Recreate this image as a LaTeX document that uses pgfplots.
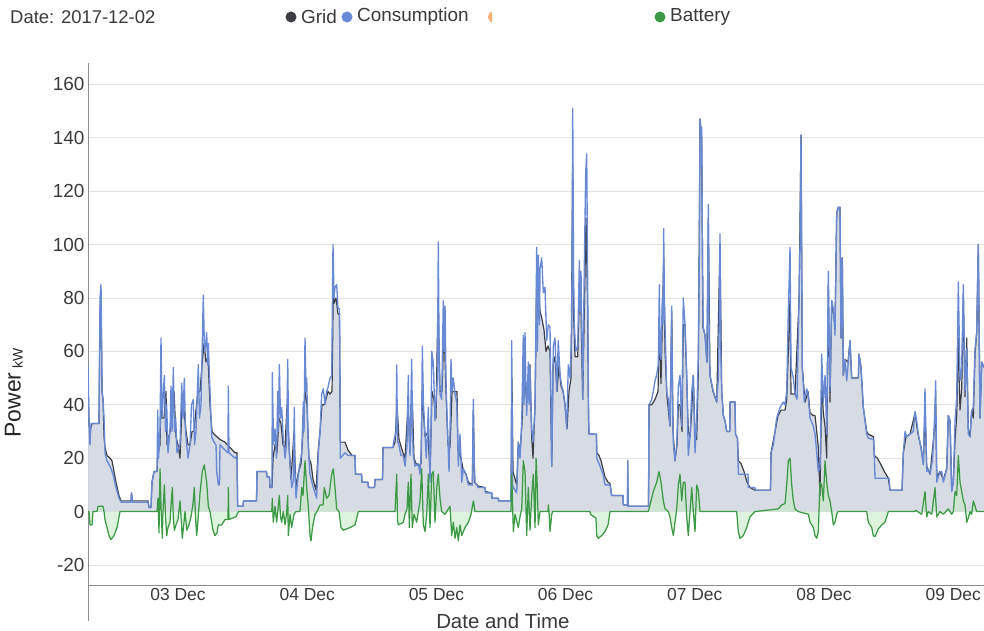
\documentclass[border=0pt]{standalone}
\usepackage{fontspec}
\setmainfont{Liberation Sans}
\usepackage{pgfplots}
\usepackage{pgfplotstable}
\pgfplotsset{compat=1.18}
\definecolor{consblue}{HTML}{6889D4}
\definecolor{griddark}{HTML}{3D3D45}
\definecolor{areagrey}{HTML}{D3D7E1}
\definecolor{battgreen}{HTML}{3C9A45}
\definecolor{battfill}{HTML}{C8EBC8}
\definecolor{solarorange}{HTML}{F2B27A}
\definecolor{txt}{HTML}{3A3A3A}

% hours relative to 03 Dec 00:00, power in kW
\pgfplotstableread{
h v
-16.72 55
-16.53 33
-16.35 25
-16.16 33
-14.68 33
-14.49 80
-14.30 85
-14.11 45
-13.93 42
-13.74 35
-13.56 22
-13.19 19
-12.63 17
-12.07 14
-11.52 9
-10.96 5
-10.59 3.5
-8.73 3.5
-8.64 7
-8.45 3.5
-5.57 3.5
-5.39 1.5
-5.02 1.5
-4.83 11
-4.46 15
-3.90 15
-3.77 38
-3.62 20
-3.34 30
-3.16 65
-2.97 35
-2.54 51
-2.32 30
-2.10 40
-1.86 22
-1.49 30
-1.30 47
-1.11 30
-0.87 54
-0.65 30
-0.43 35
-0.19 22
0.37 25
0.69 48
0.93 35
1.17 50
1.39 30
1.62 25
1.86 20
2.23 25
2.51 40
2.84 42
3.07 25
3.34 30
3.77 55
3.99 35
4.27 40
4.70 81
4.92 60
5.11 62
5.33 67
5.48 55
5.63 63
5.85 50
6.26 28
6.69 26
7.06 25
7.19 15
7.49 10
7.71 10
7.80 25
8.73 23
9.29 22
9.34 47
9.47 22
10.59 20
10.96 21
11.08 2
12.07 2
12.17 4
14.58 4
14.68 15
16.44 15
16.53 13
17.00 13
17.09 9
17.46 9
17.52 52
17.74 25
18.02 31
18.30 20
18.52 45
18.67 30
18.82 55
19.04 35
19.26 39
19.56 27
19.88 20
20.16 25
20.38 57
20.53 30
20.68 22
21.12 9
21.45 12
21.60 39
21.73 15
21.92 5
22.35 14
22.98 22
23.28 41
23.41 30
23.59 65
23.78 45
23.91 50
24.06 35
24.20 24
24.52 14
25.13 9
25.76 5
26.06 22
26.38 30
26.69 44
26.99 46
27.31 40
27.59 45
27.81 46
28.24 50
28.55 51
28.79 100
28.98 80
29.16 84
29.48 85
29.72 76
30.00 76
30.15 20
31.02 22
31.58 21
32.88 21
32.97 14
34.09 14
34.18 11
35.29 11
35.39 9
36.50 9
36.59 12
37.99 12
38.08 24
39.94 24
40.03 26
40.50 30
40.63 55
40.77 26
40.92 26
41.42 21
41.85 21
42.17 17
42.54 25
42.78 51
42.91 30
43.10 21
43.41 57
43.56 30
43.71 21
44.02 17
44.64 18
44.95 14
45.23 25
45.38 62
45.60 40
45.75 34
46.12 20
46.35 30
46.50 39
46.81 11
47.00 30
47.13 60
47.42 56
47.74 34
48.06 46
48.20 50
48.35 101
48.52 55
48.67 44
48.98 42
49.28 79
49.45 60
49.60 77
49.78 50
49.91 40
50.34 15
50.53 30
50.71 57
50.90 45
51.14 50
51.46 44
51.77 41
51.92 30
52.07 17
52.38 29
52.57 20
52.70 11
53.00 16
53.50 14
53.93 10
54.67 10
54.86 42
55.02 20
55.17 11
55.78 9
57.03 9
57.12 7
58.27 7
58.33 5
59.50 5
59.54 4
61.86 4
61.99 64
62.14 10
62.29 9
62.92 7
63.21 26
63.53 20
63.85 34
64.14 66
64.27 40
64.46 67
64.64 45
64.77 36
65.07 56
65.20 40
65.39 54
65.57 40
65.70 31
65.94 26
66.32 39
66.63 99
66.78 60
66.93 96
67.15 70
67.25 91
67.56 95
67.86 82
68.17 84
68.49 64
68.79 70
69.10 69
69.29 40
69.42 17
69.72 62
70.03 65
70.35 45
70.64 64
70.96 51
71.28 47
71.57 45
71.89 40
72.20 31
72.50 55
72.82 50
73.13 67
73.32 151
73.47 90
73.62 70
73.88 60
74.25 62
74.55 94
74.68 75
74.86 90
75.18 42
75.47 91
75.73 127
75.92 134
76.11 82
76.25 40
76.35 29
77.74 29
77.78 20
78.39 17
78.95 14
79.32 10
80.25 10
80.56 6
82.66 6
82.72 2.5
83.50 2.5
83.54 19
83.59 2
87.40 2
87.49 40
87.99 42
88.29 45
88.61 49
88.89 51
89.22 55
89.41 85
89.54 60
89.72 57
89.96 80
90.09 70
90.22 106
90.34 80
90.47 70
90.78 45
91.08 42
91.39 32
91.71 77
91.86 40
92.01 26
92.32 19
92.64 25
92.94 47
93.25 51
93.57 32
93.86 80
94.18 70
94.50 51
94.79 21
95.11 28
95.43 45
95.72 51
96.04 22
96.35 35
96.65 59
96.87 100
96.97 147
97.15 140
97.28 144
97.43 90
97.58 69
97.90 66
98.21 56
98.36 80
98.51 115
98.68 60
98.82 51
99.14 48
99.44 45
99.75 43
100.07 41
100.37 50
100.53 70
100.68 104
100.83 60
101.00 45
101.30 36
101.61 34
101.93 30
102.50 30
102.54 41
103.47 41
103.56 29
103.93 27.5
104.08 14
105.88 14
105.94 9
107.18 9
107.24 8
110.06 8
110.16 22
110.58 25
110.90 30
111.21 35
111.83 39
112.44 41
112.76 40
113.07 45
113.37 75
113.69 99
113.87 54
114.30 50
114.61 44
114.99 42
115.36 79
115.54 100
115.73 141
115.97 54
116.34 41
116.79 46
117.03 44
117.40 35
118.01 32
118.33 29
118.65 22
118.94 15
119.26 16
119.57 59
119.87 41
120.19 51
120.50 29
120.80 90
121.11 45
121.43 79
121.73 76
122.04 66
122.36 112
122.66 114
122.79 113
122.97 114
123.16 65
123.40 95
123.59 51
123.90 57
124.22 49
124.51 56
124.83 64
125.14 50
126.37 50
126.50 59
126.87 54
127.30 39
127.93 29
128.23 27.5
129.20 27
129.35 21
129.47 12.5
132.08 12.5
132.26 8
134.49 8
134.73 22
135.05 30
135.36 28
135.98 29
136.59 30
136.91 37.5
137.22 34
137.52 29
138.02 24
138.45 17.5
138.76 46
139.08 15
139.38 16
139.69 14
140.12 19
140.43 29
140.75 49
140.94 11
141.23 13
141.55 15
141.87 15
142.16 11
142.79 16
143.09 36
143.41 34
143.72 7.5
144.02 11
144.34 34
144.65 42.5
144.95 86
145.26 49
145.58 54
145.88 85
146.19 45
146.51 61
146.80 29
147.12 28
147.43 37.5
147.73 39
148.05 61
148.36 67
148.66 100
148.98 35
149.29 56
149.72 54
}\consumption

\pgfplotstableread{
h v
-16.72 50
-16.53 33
-16.35 30
-15.98 33
-14.68 33
-14.49 75
-14.30 82
-14.11 45
-13.93 42
-13.74 28
-13.56 24
-13.19 21
-12.63 20
-12.26 19
-11.89 15
-11.52 11
-10.96 6
-10.59 4
-8.73 4
-8.64 7
-8.45 4
-5.57 4
-5.39 1.5
-5.02 1.5
-4.83 11
-4.46 15
-3.90 15
-3.72 22
-3.34 25
-3.16 45
-2.97 35
-2.60 35
-2.23 45
-2.04 25
-1.49 30
-1.11 35
-0.74 45
-0.37 28
0.00 25
0.37 20
0.74 40
1.11 38
1.49 30
1.86 25
2.23 25
2.60 30
2.97 30
3.34 38
3.72 45
4.09 45
4.46 55
4.83 63
5.20 56
5.57 58
5.94 40
6.32 30
6.69 29
7.24 28
7.80 27
8.73 26
9.66 24
10.59 22
10.96 22
11.08 2
12.07 2
12.17 4
14.58 4
14.68 15
16.44 15
16.53 13
17.00 13
17.09 9
17.46 9
17.65 20
18.02 25
18.39 22
18.76 35
19.13 33
19.50 25
19.88 24
20.25 40
20.62 25
20.99 12
21.55 30
21.92 8
22.29 14
22.85 18
23.22 30
23.59 45
23.96 40
24.33 20
24.71 18
25.08 12
25.64 8
26.01 22
26.38 30
26.75 40
27.12 40
27.49 42
27.86 45
28.24 44
28.61 45
28.85 85
28.98 78
29.35 80
29.72 74
30.00 74
30.15 26
31.02 26
31.58 23
32.32 21
32.88 21
32.97 14
34.09 14
34.18 11
35.29 11
35.39 9
36.50 9
36.59 12
37.99 12
38.08 24
39.94 24
40.31 26
40.68 40
41.05 27
41.79 22
42.17 20
42.73 40
43.10 22
43.48 45
43.84 20
44.21 18
44.77 17
45.14 18
45.33 45
45.89 28
46.44 30
46.81 14
47.18 45
47.55 42
47.92 35
48.30 80
48.67 45
49.04 45
49.41 70
49.78 45
50.15 25
50.53 24
50.90 45
51.46 45
51.83 45
52.01 23
52.57 20
52.94 16
53.50 14
53.93 11
54.67 10
54.86 38
55.08 11
55.78 9.5
57.03 9
57.12 7.5
58.27 7
58.33 5
59.50 5
59.54 4
61.86 4
62.04 50
62.23 15
62.92 10
63.21 26
63.53 22
63.90 33
64.14 47
64.46 50
64.74 42
65.07 46
65.39 55
65.70 28
65.94 20
66.32 40
66.63 87
66.93 85
67.25 75
67.62 72
67.99 68
68.36 60
68.73 62
69.10 60
69.42 17
69.66 55
70.03 58
70.40 45
70.78 55
71.15 47
71.52 45
71.89 40
72.26 31
72.63 45
73.00 50
73.32 130
73.47 75
73.75 58
74.25 58
74.55 80
74.86 75
75.18 42
75.47 75
75.79 110
76.11 75
76.25 35
76.35 29
77.74 29
77.78 22
78.21 21
78.58 19
78.95 16
79.32 13
79.88 11
80.25 10.5
80.56 6
82.66 6
82.72 2.5
83.50 2.5
83.54 19
83.59 2
87.40 2
87.49 40
87.99 40
88.61 42
89.17 45
89.41 70
89.72 48
90.22 95
90.47 60
90.84 43
91.39 32
91.71 75
91.96 30
92.32 19
92.69 25
92.94 40
93.25 40
93.62 30
93.86 70
94.18 70
94.50 50
94.79 30
95.11 28
95.43 38
95.72 51
96.04 28
96.35 27
96.65 52
96.97 147
97.28 140
97.52 69
97.90 66
98.27 56
98.51 110
98.82 51
99.38 45
100.07 41
100.68 100
101.00 45
101.30 36
101.61 34
101.93 30
102.50 30
102.54 41
103.47 41
103.56 29
103.93 27.5
104.08 19
104.58 18
105.14 15
105.70 11
106.26 9
107.18 8
110.06 8
110.16 22
110.90 30
111.46 36
112.02 38
112.76 38
113.07 42
113.37 60
113.69 80
113.87 44
114.61 44
115.36 79
115.73 141
115.97 54
116.48 41
117.03 45
117.40 37
117.96 36
118.33 36
118.65 30
118.94 24
119.26 6
119.57 48
119.87 37
120.19 32
120.50 20
120.80 85
121.11 41
121.43 79
122.04 70
122.36 112
122.66 114
122.97 114
123.16 65
123.40 95
123.59 51
123.90 57
124.46 56
124.83 64
125.14 50
126.37 50
126.50 59
126.87 54
127.30 39
127.93 30
128.23 29
129.20 28
129.35 21
129.91 20
130.47 18
131.21 15
131.95 12.5
132.26 8
134.49 8
134.73 22
135.23 28
135.98 29
136.91 37
137.46 29
138.02 24
138.45 18
138.76 38
139.08 17
139.69 14
140.43 29
140.75 40
140.94 13
141.55 15
142.16 12
142.79 16
143.09 36
143.41 34
143.72 8
144.02 11
144.34 27
144.65 36
144.95 65
145.26 38
145.58 46
145.88 81
146.19 43
146.51 65
146.80 31
147.12 28
147.43 38
147.73 35
148.05 59
148.36 67
148.66 100
148.98 35
149.29 56
149.72 54
}\grid

\pgfplotstableread{
h v
-16.72 0
-16.53 0
-16.35 -5
-15.98 -5
-15.79 0
-15.05 0
-14.86 2
-13.93 2
-13.74 0
-13.56 -3
-13.19 -6
-12.82 -9
-12.45 -10.5
-11.89 -9
-11.33 -6
-10.96 -2
-10.77 0
-3.90 0
-3.72 5
-3.53 -8
-3.34 16
-3.16 2
-2.92 -10
-2.79 0
-2.54 10
-2.32 -2
-2.10 -9
-1.86 -6
-1.49 -4
-1.30 2
-1.06 9
-0.87 -2
-0.69 -7
-0.37 -5
0.00 -3
0.37 4
0.56 -2
0.80 -10
1.11 -4
1.30 0
1.62 -7
2.04 -5
2.41 -2
2.79 3
3.03 9
3.25 -2
3.47 -9
3.72 -3
4.09 7
4.51 15
4.88 17.5
5.33 11
5.63 2
5.94 0
6.26 -4
6.50 -7
6.87 -9
7.24 -8
7.49 -5
8.12 -5
8.73 -3
9.29 -3
9.34 9
9.47 -3
10.03 -2.5
10.77 -2
11.21 0
17.41 0
17.52 5
17.70 -4
18.02 2
18.33 -4
18.58 1
18.82 6
19.04 -2
19.26 -4
19.56 0
19.88 -5
20.16 -1
20.38 6
20.49 -9
20.81 -1
21.12 -6
21.55 -1
21.92 0
22.66 0
22.98 9
23.22 6
23.59 19
23.91 9
24.20 2
24.52 -9
24.71 -11
24.98 -6
25.45 -1
25.82 0
26.38 2.5
26.94 2.5
27.18 9
27.62 5
28.05 6
28.55 14
28.85 16
29.16 9
29.48 1
29.91 0
30.09 -3
30.28 -6
30.71 -7
31.95 -6
32.88 -5
33.20 -2.5
33.49 0
40.31 0
40.63 14
40.77 -3
40.92 -5
41.85 -4
42.17 -1
42.54 1
42.78 11
42.97 -6
43.28 14
43.52 -6
43.84 -1
44.34 -4
44.64 0
44.95 4
45.27 16
45.57 -5
45.89 -7.5
46.20 -1
46.50 14
46.81 -6
47.13 14
47.42 15
47.74 -4
48.06 9
48.35 14
48.67 5
48.98 0
49.60 -1
50.53 2
50.84 -9
51.14 -4
51.46 -10
51.77 -6
52.07 -11
52.38 -5
52.70 -9
53.31 -6
53.93 -4
54.43 -1
54.86 4
55.17 0
61.86 0
61.99 14
62.29 -7.5
62.60 -1
63.21 -6
63.53 -2
63.85 1
64.14 19
64.46 15
64.77 -9
65.07 9
65.39 -7
65.70 6
66.00 14
66.32 -6
66.51 20
66.69 12
66.93 -5
67.25 0
68.73 0
68.79 2.5
68.92 0
69.10 -7.5
69.42 -1
69.57 0
76.53 0
76.62 -1
77.64 -2.5
77.78 -9
78.07 -10
78.70 -9
79.32 -7.5
79.88 -5
80.25 0
87.36 0
87.68 2.5
88.29 7.5
88.92 11
89.35 15
89.72 11
90.15 4
90.47 1
91.08 0
91.39 -2
91.71 -6
92.01 -9
92.32 -4
92.64 1
92.94 10
93.25 14
93.57 4
93.86 11
94.18 11
94.50 -2
94.79 -9
95.11 0
95.43 9
95.72 0
96.04 -7.5
96.35 10
96.65 8
96.97 0
103.78 0
104.08 -7.5
104.40 -10
105.01 -9
105.64 -6
106.25 -2
107.18 0
111.51 1
112.14 2.5
112.76 3
113.07 10
113.37 19
113.69 20
114.00 10
114.30 4
114.61 1
115.23 0
117.09 -1
117.40 -4
118.01 -6
118.33 -9
118.65 -10
118.94 -7.5
119.26 11
119.57 10
119.87 4
120.19 19
120.50 11
120.80 6
121.11 4
121.43 0
121.73 -5
122.04 -4
122.36 -1
122.60 0
127.93 0
128.23 -4
128.86 -6
129.16 -9
129.47 -9.4
130.09 -6.5
130.72 -5
131.33 -4
131.95 0
136.91 0
137.00 0.5
138.15 -1
138.76 7.5
139.08 -2
139.38 0
140.01 -1
140.62 9
140.94 -2
141.55 0
142.16 -1
143.09 1
143.72 -1
144.02 0
144.34 7.5
144.65 6
144.95 21
145.26 11
145.58 7.5
145.88 4
146.19 2.5
146.51 -4
146.80 -2.5
147.12 0
147.43 -1
147.73 4
148.05 2
148.36 0
149.72 0
}\battery

\begin{document}
\begin{tikzpicture}
\useasboundingbox (0,0) rectangle (984bp,631bp);
% header
\node[anchor=west, text=txt, font=\fontsize{18.5}{20}\selectfont, inner sep=0pt] at (10bp,614bp) {Date: 2017-12-02};
\fill[griddark] (291bp,614bp) circle (5.5bp);
\node[anchor=west, text=txt, font=\fontsize{19}{20}\selectfont, inner sep=0pt] at (301bp,614bp) {Grid};
\fill[consblue] (347bp,614bp) circle (5.5bp);
\node[anchor=west, text=txt, font=\fontsize{19}{20}\selectfont, inner sep=0pt] at (357bp,614bp) {Consumption};
\fill[solarorange] (492bp,619.5bp) arc[start angle=90, end angle=270, x radius=4bp, y radius=5.5bp] -- cycle;
\fill[battgreen] (660bp,614bp) circle (5.5bp);
\node[anchor=west, text=txt, font=\fontsize{19}{20}\selectfont, inner sep=0pt] at (670bp,614bp) {Battery};
\draw[black!45, line width=0.8bp] (88bp,46bp) -- (88bp,10bp);
\begin{axis}[
  at={(88bp,46bp)}, anchor=south west,
  scale only axis, width=896bp, height=522bp,
  xmin=-16.72, xmax=149.72, ymin=-27.5, ymax=168,
  axis lines=left,
  axis line style={-, draw=black!45, line width=0.8bp},
  major tick length=0pt,
  xtick={0,24,48,72,96,120,144},
  xticklabels={03 Dec,04 Dec,05 Dec,06 Dec,07 Dec,08 Dec,09 Dec},
  ytick={-20,0,20,40,60,80,100,120,140,160},
  ymajorgrids,
  grid style={draw=black!11, line width=0.7bp},
  /pgf/number format/assume math mode=true,
  xticklabel style={font=\fontsize{17.5}{19}\selectfont, text=txt},
  yticklabel style={font=\fontsize{19}{21}\selectfont, text=txt},
  xlabel={Date and Time},
  xlabel style={font=\fontsize{20.5}{22}\selectfont, text=txt, at={(axis description cs:0.463,0)}, anchor=center, yshift=-36bp},
  ylabel={Power\,\raisebox{-2bp}{\fontsize{14}{14}\selectfont kW}},
  ylabel style={font=\fontsize{23}{25}\selectfont, text=black!85, at={(axis description cs:-0.083,0.368)}, anchor=center},
]
\addplot[draw=none, fill=areagrey, fill opacity=0.9] table[x=h,y=v] {\grid} \closedcycle;
\addplot[draw=none, fill=battfill, fill opacity=0.6] table[x=h,y=v] {\battery} \closedcycle;
\addplot[griddark, line width=1.2bp, line join=round] table[x=h,y=v] {\grid};
\addplot[consblue, line width=1.35bp, line join=round] table[x=h,y=v] {\consumption};
\addplot[battgreen, line width=1.25bp, line join=round] table[x=h,y=v] {\battery};
\end{axis}
\end{tikzpicture}
\end{document}
